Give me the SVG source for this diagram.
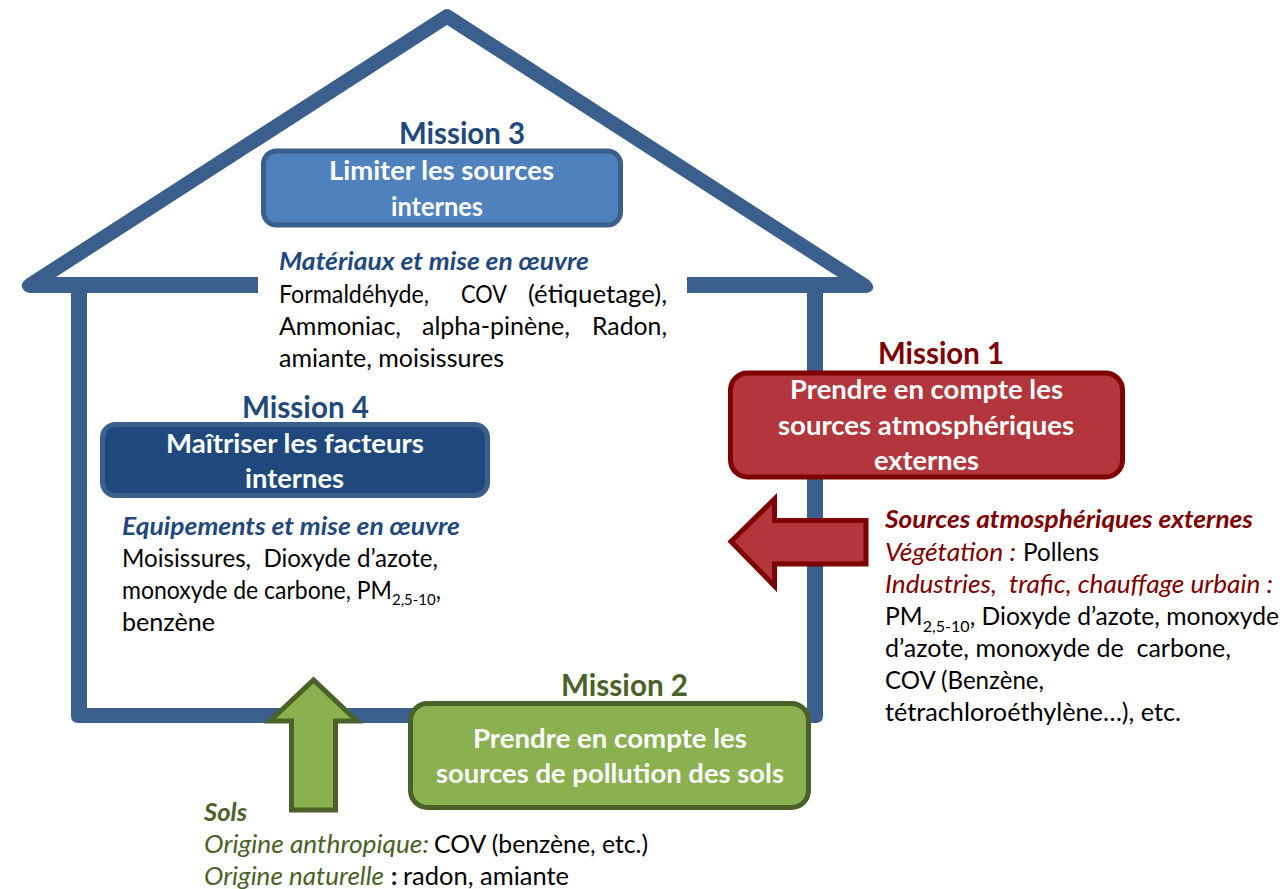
<svg xmlns="http://www.w3.org/2000/svg" width="1283" height="889" viewBox="0 0 1283 889">
<style>
text{font-family:Lato,"Liberation Sans",sans-serif;font-size:24.500px;fill:#000;white-space:pre}
.m{font-size:29.500px;font-weight:700}
.w{font-size:26.500px;font-weight:700;fill:#fff}
.h{font-weight:700;font-style:italic}
.i{font-style:italic}
.sub{font-size:16px}
.blue{fill:#1f497d}.red{fill:#7f0000}.green{fill:#4a6128}
.house{fill:#3a5f8d}
.box{stroke-width:5}
</style>
<rect width="1283" height="889" fill="#fff"/>
<g id="house">
<path class="house" d="M442 11Q447 7 452 11L869 280Q877 288 870 292Q868 293 864 293H687V277H838L447 25L56 277H258V293H32Q24 293 22 287Q21 283 26 279Z"/>
<path class="house" d="M71 293H87V708H807V293H823V716Q823 723 816 723H78Q71 723 71 716Z"/>
</g>
<g id="connectors">
<path id="arrow-atmos" d="M866 520.500H774.500V499L731 541.500L774.500 586V564H866Z" fill="#b3363d" stroke="#7f0000" stroke-width="5"/>
<path id="arrow-sols" d="M291.500 810V721H270L313.500 680L357 721H335.500V810Z" fill="#8ab04f" stroke="#4a6128" stroke-width="5"/>
</g>
<g id="mission-3">
<text class="m blue" x="399" y="144" textLength="126" lengthAdjust="spacingAndGlyphs">Mission 3</text>
<rect class="box" x="263.500" y="151" width="357" height="74" rx="13" fill="#4f81bd" stroke="#3a5f8d"/>
<text class="w" x="329" y="180" textLength="225" lengthAdjust="spacingAndGlyphs">Limiter les sources</text>
<text class="w" x="391" y="216" textLength="92" lengthAdjust="spacingAndGlyphs">internes</text>
</g>
<g id="text-materiaux">
<text class="h blue" x="279" y="270" textLength="310" lengthAdjust="spacingAndGlyphs">Matériaux et mise en œuvre</text>
<text x="279" y="303" textLength="150" lengthAdjust="spacingAndGlyphs">Formaldéhyde,</text>
<text x="461" y="303" textLength="46" lengthAdjust="spacingAndGlyphs">COV</text>
<text x="528" y="303" textLength="139" lengthAdjust="spacingAndGlyphs">(étiquetage),</text>
<text x="279" y="335" textLength="122" lengthAdjust="spacingAndGlyphs">Ammoniac,</text>
<text x="422" y="335" textLength="148" lengthAdjust="spacingAndGlyphs">alpha-pinène,</text>
<text x="592" y="335" textLength="75" lengthAdjust="spacingAndGlyphs">Radon,</text>
<text x="279" y="367" textLength="225" lengthAdjust="spacingAndGlyphs">amiante, moisissures</text>
</g>
<g id="mission-4">
<text class="m blue" x="242" y="418" textLength="127" lengthAdjust="spacingAndGlyphs">Mission 4</text>
<rect class="box" x="102.500" y="424.500" width="385" height="71" rx="13" fill="#1f497d" stroke="#3a5f8d"/>
<text class="w" x="166" y="453" textLength="258" lengthAdjust="spacingAndGlyphs">Maîtriser les facteurs</text>
<text class="w" x="245" y="488" textLength="99" lengthAdjust="spacingAndGlyphs">internes</text>
</g>
<g id="text-equipements">
<text class="h blue" x="122" y="535" textLength="338" lengthAdjust="spacingAndGlyphs">Equipements et mise en œuvre</text>
<text x="122" y="567" textLength="316" lengthAdjust="spacingAndGlyphs">Moisissures,  Dioxyde d’azote,</text>
<text x="122" y="599" textLength="319" lengthAdjust="spacingAndGlyphs">monoxyde de carbone, PM<tspan class="sub" dy="6">2,5-10</tspan><tspan dy="-6">,</tspan></text>
<text x="122" y="631" textLength="93" lengthAdjust="spacingAndGlyphs">benzène</text>
</g>
<g id="mission-1">
<text class="m red" x="878" y="364" textLength="126" lengthAdjust="spacingAndGlyphs">Mission 1</text>
<rect class="box" x="730.500" y="373" width="392" height="104" rx="17" fill="#b3363d" stroke="#7f0000"/>
<text class="w" x="790" y="399" textLength="273" lengthAdjust="spacingAndGlyphs">Prendre en compte les</text>
<text class="w" x="778" y="435" textLength="296" lengthAdjust="spacingAndGlyphs">sources atmosphériques</text>
<text class="w" x="874" y="470" textLength="105" lengthAdjust="spacingAndGlyphs">externes</text>
</g>
<g id="text-atmos">
<text class="h red" x="885" y="528" textLength="368" lengthAdjust="spacingAndGlyphs">Sources atmosphériques externes</text>
<text class="i red" x="885" y="561" textLength="131" lengthAdjust="spacingAndGlyphs">Végétation :</text>
<text x="1023" y="561" textLength="76" lengthAdjust="spacingAndGlyphs">Pollens</text>
<text class="i red" x="885" y="593" textLength="388" lengthAdjust="spacingAndGlyphs">Industries,  trafic, chauffage urbain :</text>
<text x="885" y="625" textLength="394" lengthAdjust="spacingAndGlyphs">PM<tspan class="sub" dy="7">2,5-10</tspan><tspan dy="-7">, Dioxyde d’azote, monoxyde</tspan></text>
<text x="885" y="657" textLength="346" lengthAdjust="spacingAndGlyphs">d’azote, monoxyde de  carbone,</text>
<text x="885" y="689" textLength="159" lengthAdjust="spacingAndGlyphs">COV (Benzène,</text>
<text x="885" y="721" textLength="296" lengthAdjust="spacingAndGlyphs">tétrachloroéthylène…), etc.</text>
</g>
<g id="mission-2">
<text class="m green" x="561" y="696" textLength="127" lengthAdjust="spacingAndGlyphs">Mission 2</text>
<rect class="box" x="410.500" y="703.500" width="398" height="104" rx="17" fill="#8ab04f" stroke="#4a6128"/>
<text class="w" x="473" y="748" textLength="274" lengthAdjust="spacingAndGlyphs">Prendre en compte les</text>
<text class="w" x="436" y="783" textLength="348" lengthAdjust="spacingAndGlyphs">sources de pollution des sols</text>
</g>
<g id="text-sols">
<text class="h green" x="204" y="821" textLength="43" lengthAdjust="spacingAndGlyphs">Sols</text>
<text class="i green" x="204" y="853" textLength="225" lengthAdjust="spacingAndGlyphs">Origine anthropique:</text>
<text x="434" y="853" textLength="214" lengthAdjust="spacingAndGlyphs">COV (benzène, etc.)</text>
<text class="i green" x="204" y="885" textLength="180" lengthAdjust="spacingAndGlyphs">Origine naturelle</text>
<text x="391" y="885" font-weight="700">:</text>
<text x="403" y="885" textLength="166" lengthAdjust="spacingAndGlyphs">radon, amiante</text>
</g>
</svg>
